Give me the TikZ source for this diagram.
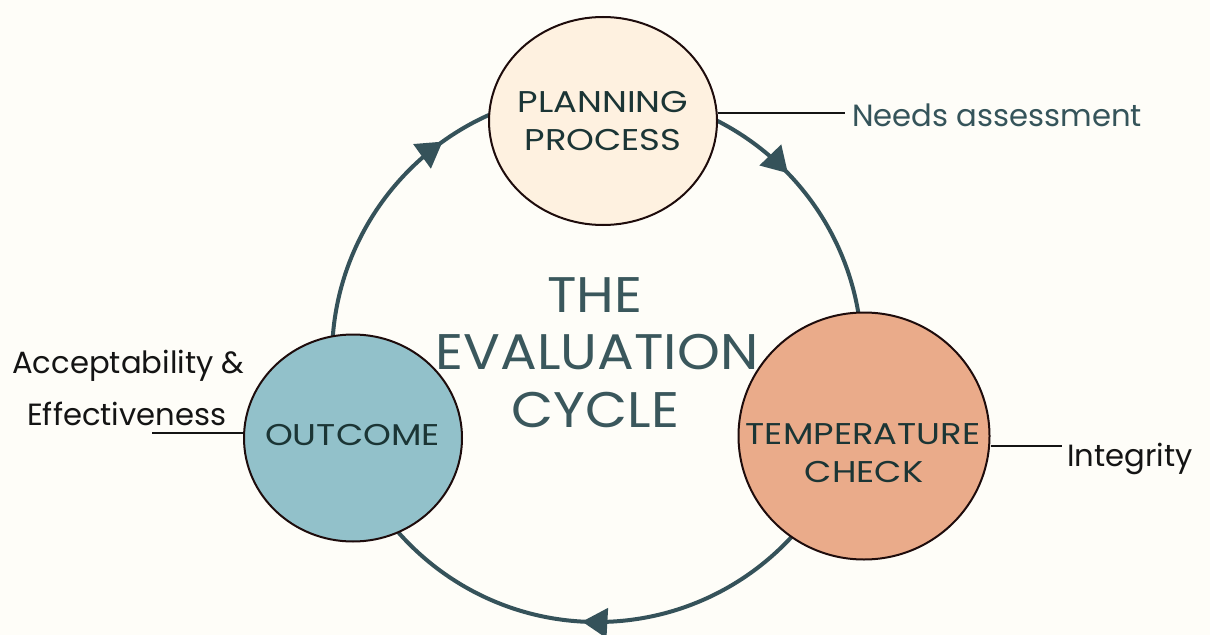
\documentclass[tikz,border=0pt]{standalone}
\usepackage{fontspec}
\setmainfont{Poppins}
\newfontfamily\stagefont{Poppins}[FakeStretch=1.18]
\newfontfamily\titlefont{Poppins}[FakeStretch=1.09]
\newfontfamily\sidefont{Poppins}
\usetikzlibrary{shapes.geometric,decorations.markings,arrows.meta}
\definecolor{bgcol}{HTML}{FEFDF8}
\definecolor{planfill}{HTML}{FEF1E0}
\definecolor{tempfill}{HTML}{EAAB8A}
\definecolor{outfill}{HTML}{92C1CA}
\definecolor{cyccol}{HTML}{35525A}
\definecolor{bordercol}{HTML}{1E0C0C}
\definecolor{titlecol}{HTML}{3A575C}
\definecolor{innercol}{HTML}{1B3535}
\definecolor{needscol}{HTML}{35545A}
\definecolor{labcol}{HTML}{141414}
\newdimen\px \px=0.75pt
\tikzset{
  stage/.style={ellipse, draw=bordercol, line width=1.5pt, inner sep=0pt},
  stagetext/.style={anchor=base, text=innercol, font=\stagefont\fontsize{22.5pt}{27pt}\selectfont, inner sep=0pt},
  titletext/.style={anchor=base, text=titlecol, font=\titlefont\fontsize{37.5pt}{45pt}\selectfont, inner sep=0pt},
  sidetext/.style={anchor=base west, text=labcol, font=\sidefont\fontsize{23pt}{27pt}\selectfont, inner sep=0pt},
  leader/.style={draw=labcol, line width=1pt},
  cyc/.style={draw=cyccol, line width=3pt}
}
\begin{document}
\begin{tikzpicture}[x=0.75pt,y=0.75pt]
\useasboundingbox[fill=bgcol] (0,0) rectangle (1210,-635);
\coordinate (C) at (597,-357);
% cycle
\draw[cyc, postaction={decorate}, decoration={markings,
   mark=at position 0.128 with {\arrow[cyccol]{Triangle[length=19pt,width=22pt]}},
   mark=at position 0.509 with {\arrow[cyccol]{Triangle[length=19pt,width=22pt]}},
   mark=at position 0.901 with {\arrow[cyccol]{Triangle[length=19pt,width=22pt]}}}]
   (C) ++(90:265) arc[start angle=90, end angle=-270, radius=265];
% stages
\node[stage, fill=planfill, minimum width=228\px, minimum height=208\px] (plan) at (603,-121) {};
\node[stage, fill=tempfill, minimum width=251\px, minimum height=247\px] (temp) at (864,-436) {};
\node[stage, fill=outfill, minimum width=218\px, minimum height=207\px] (outc) at (353,-438) {};
% stage texts
\node[stagetext] (planA) at (603,-113) {PLANNING};
\node[stagetext] (planB) at (603,-150) {PROCESS};
\node[stagetext] (tempA) at (863,-444) {TEMPERATURE};
\node[stagetext] (tempB) at (864,-482) {CHECK};
\node[stagetext] (outA) at (352.5,-445) {OUTCOME};
% title
\node[titletext] (t1) at (595,-312) {THE};
\node[titletext] (t2) at (597,-369) {EVALUATION};
\node[titletext] (t3) at (595.5,-427) {CYCLE};
% side labels
\node[sidetext, text=needscol] (needs) at (852,-127) {Needs assessment};
\node[sidetext] (integ) at (1067,-466) {Integrity};
\node[sidetext] (acc1) at (12,-373) {Acceptability \&};
\node[sidetext] (acc2) at (27,-425) {Effectiveness};
% leaders
\coordinate (nL) at (845,-113);
\coordinate (iL) at (1062,-446);
\coordinate (oL) at (152,-433);
\draw[leader] (plan.east |- nL) -- (nL);
\draw[leader] (temp.east |- iL) -- (iL);
\draw[leader] (outc.west |- oL) -- (oL);
\end{tikzpicture}
\end{document}
